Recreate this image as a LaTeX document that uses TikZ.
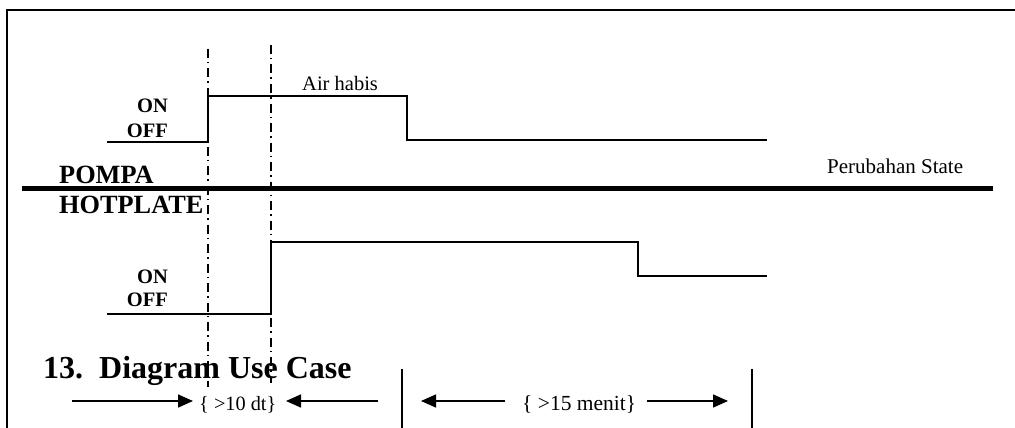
\documentclass[tikz,border=0pt]{standalone}
\usepackage{fontspec}
\setmainfont{Liberation Serif}
\usetikzlibrary{arrows.meta}
\begin{document}
\begin{tikzpicture}[x=1pt,y=-1pt,
  frame/.style={line width=2.5pt},
  divider/.style={line width=5pt},
  signal/.style={line width=2pt},
  marker/.style={line width=1.5pt, dash pattern=on 9pt off 4pt on 1.5pt off 5pt},
  bar/.style={line width=2pt},
  span/.style={line width=1.5pt, -{Triangle[length=15pt,width=13pt]}},
  lvl/.style={font=\fontsize{20.5}{22}\selectfont\bfseries, inner sep=0pt, anchor=base east},
  lane/.style={font=\fontsize{26.3}{30}\selectfont\bfseries, inner sep=0pt, anchor=base west},
  note/.style={font=\fontsize{21}{23}\selectfont, inner sep=0pt, anchor=base west}]
  \useasboundingbox (0,0) rectangle (1015,428);

  % page frame (top and left edges)
  \draw[frame] (7,428) -- (7,10) -- (1015,10);

  % divider between the two lanes
  \draw[divider] (22,188) -- (993,188);

  % time markers
  \draw[marker] (208,49) -- (208,387);
  \draw[marker] (271,45) -- (271,383);

  % pump signal
  \draw[signal] (107,142) -- (208,142) -- (208,96) -- (407,96) -- (407,140) -- (767,140);
  % hotplate signal
  \draw[signal] (107,314) -- (271,314) -- (271,242) -- (638,242) -- (638,276) -- (767,276);

  % labels
  \node[lvl] (pon)  at (168,113) {ON};
  \node[lvl] (poff) at (168,137) {OFF};
  \node[lvl] (hon)  at (168,283) {ON};
  \node[lvl] (hoff) at (168,306) {OFF};
  \node[lane] (pompa) at (59,183) {POMPA};
  \node[lane] (hot)   at (59,213) {HOTPLATE};
  \node[note, font=\fontsize{20.5}{23}\selectfont] (air) at (302,91) {Air habis};
  \node[note] (state) at (827,173) {Perubahan State};
  \node[font=\fontsize{32}{36}\selectfont\bfseries, inner sep=0pt, anchor=base west] (title) at (43,378) {13.\ \ Diagram Use Case};

  % interval annotations
  \node[note, font=\fontsize{20.3}{23}\selectfont] (t10) at (199,410) {\{ >10 dt\}};
  \node[note, font=\fontsize{21.5}{23}\selectfont] (t15) at (522,410) {\{ >15 menit\}};

  \coordinate (a1s) at (72,401);
  \coordinate (a1e) at (193,401);
  \coordinate (a2s) at (378,401);
  \coordinate (a2e) at (286,401);
  \coordinate (a3s) at (505,401);
  \coordinate (a3e) at (421,401);
  \coordinate (a4s) at (647,401);
  \coordinate (a4e) at (728,401);
  \draw[span] (a1s) -- (a1e);
  \draw[span] (a2s) -- (a2e);
  \draw[span] (a3s) -- (a3e);
  \draw[span] (a4s) -- (a4e);

  \coordinate (b1t) at (402,369);
  \coordinate (b1b) at (402,428);
  \coordinate (b2t) at (752,369);
  \coordinate (b2b) at (752,428);
  \draw[bar] (b1t) -- (b1b);
  \draw[bar] (b2t) -- (b2b);
\end{tikzpicture}
\end{document}
